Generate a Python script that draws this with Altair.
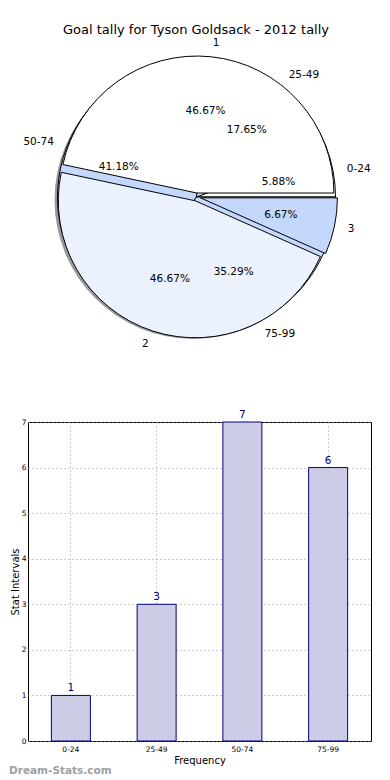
import altair as alt
import pandas as pd

chart_title = "Goal tally for Tyson Goldsack - 2012 tally"

goal_labels = ["1", "2", "3"]
goal_counts = [7, 7, 1]
goal_colors = ["#FFFFFF", "#EBF1FD", "#C4D8FB"]

interval_labels = ["0-24", "25-49", "50-74", "75-99"]
interval_counts = [1, 3, 7, 6]
interval_colors = ["#FFFFFF", "#EBF1FD", "#C4D8FB", "#C4D8FB"]

bar_values = [1, 3, 7, 6]
y_tick_values = [0, 1, 2, 3, 4, 5, 6, 7]
x_axis_title = "Frequency"
y_axis_title = "Stat Intervals"
watermark = "Dream-Stats.com"

FONT = "DejaVu Sans"
OX = 27          # page x of plot origin
PIE_W, PIE_H = 370 - OX, 401
CX = 195.5 - OX
CY = 197 - 8
RB = 139
RA = 137
EXPLODE = 4

goal_df = pd.DataFrame({"cat": goal_labels, "value": goal_counts, "order": list(range(len(goal_labels)))})
int_df = pd.DataFrame({"cat": interval_labels, "value": interval_counts, "order": list(range(len(interval_labels)))})


def pie_base(df, cx, cy, r, explode):
    return (
        alt.Chart(df)
        .transform_joinaggregate(total="sum(value)")
        .transform_window(cum="sum(value)", sort=[alt.SortField("order")])
        .transform_calculate(
            f0="(datum.cum - datum.value) / datum.total",
            f1="datum.cum / datum.total",
        )
        .transform_calculate(
            t0="PI / 2 - 2 * PI * datum.f1",
            t1="PI / 2 - 2 * PI * datum.f0",
            mid="PI * (datum.f0 + datum.f1)",
            pct="format(100 * datum.value / datum.total, '.2f') + '%'",
        )
        .transform_calculate(
            px=f"{cx} + {explode} * cos(datum.mid)",
            py=f"{cy} - {explode} * sin(datum.mid)",
        )
        .transform_calculate(
            lx=f"datum.px + {1.1 * r} * cos(datum.mid)",
            ly=f"datum.py - {1.1 * r} * sin(datum.mid)",
            qx=f"datum.px + {0.6 * r} * cos(datum.mid)",
            qy=f"datum.py - {0.6 * r} * sin(datum.mid)",
        )
    )


def pie_arcs(df, labels, colors, cx, cy, r, explode):
    return pie_base(df, cx, cy, r, explode).mark_arc(
        radius=r, stroke="black", strokeWidth=1
    ).encode(
        x=alt.X("px:Q", scale=None, axis=None),
        y=alt.Y("py:Q", scale=None, axis=None),
        theta=alt.Theta("t0:Q", scale=None, stack=None),
        theta2="t1:Q",
        color=alt.Color("cat:N", scale=alt.Scale(domain=labels, range=colors), legend=None),
    )


def pie_texts(df, cx, cy, r, explode):
    b = pie_base(df, cx, cy, r, explode)
    right = b.transform_filter("cos(datum.mid) >= 0").mark_text(
        align="left", baseline="middle", fontSize=10.5, font=FONT, color="black"
    ).encode(x=alt.X("lx:Q", scale=None), y=alt.Y("ly:Q", scale=None), text="cat:N")
    left = b.transform_filter("cos(datum.mid) < 0").mark_text(
        align="right", baseline="middle", fontSize=10.5, font=FONT, color="black"
    ).encode(x=alt.X("lx:Q", scale=None), y=alt.Y("ly:Q", scale=None), text="cat:N")
    pct = b.mark_text(
        align="center", baseline="middle", fontSize=10.5, font=FONT, color="black"
    ).encode(x=alt.X("qx:Q", scale=None), y=alt.Y("qy:Q", scale=None), text="pct:N")
    return [right, left, pct]


one = pd.DataFrame({"t": [chart_title]})
shadow = alt.Chart(one).mark_arc(
    radius=RB, theta=0, theta2=6.2832, fill="#555555", fillOpacity=0.6
).encode(x=alt.value(CX - 3), y=alt.value(CY + 3))

title = alt.Chart(one).mark_text(
    align="center", baseline="middle", fontSize=13, font=FONT, color="black"
).encode(x=alt.value(195 - OX), y=alt.value(30 - 8), text="t:N")

pie = alt.layer(
    shadow,
    pie_arcs(int_df, interval_labels, interval_colors, CX, CY, RB, 0),
    pie_arcs(goal_df, goal_labels, goal_colors, CX, CY, RA, EXPLODE),
    *pie_texts(int_df, CX, CY, RB, 0),
    *pie_texts(goal_df, CX, CY, RA, EXPLODE),
    title,
).resolve_scale(color="independent").properties(
    width=PIE_W, height=PIE_H, view=alt.ViewBackground(strokeOpacity=0)
)

bar_df = pd.DataFrame({"interval": interval_labels, "count": bar_values})
BAR_W = 370 - OX
BAR_H = 319

xenc = alt.X(
    "interval:N", sort=interval_labels,
    scale=alt.Scale(paddingInner=0, paddingOuter=0),
    axis=alt.Axis(
        title=x_axis_title, labelAngle=0, labelFontSize=7.5, titleFontSize=10,
        ticks=False, domain=False, grid=True, gridDash=[1, 3], gridColor="#9a9a9a",
        bandPosition=0.5, labelPadding=4, titlePadding=3, titleFontWeight="normal",
        labelFont=FONT, titleFont=FONT, labelColor="black", titleColor="black",
    ),
)
yenc = alt.Y(
    "count:Q", scale=alt.Scale(domain=[0, 7], nice=False, zero=True),
    axis=alt.Axis(
        title=y_axis_title, values=y_tick_values, labelFontSize=7.5, titleFontSize=10,
        ticks=False, domain=False, grid=True, gridDash=[1, 3], gridColor="#9a9a9a",
        labelPadding=2, titlePadding=1, titleFontWeight="normal",
        labelFont=FONT, titleFont=FONT, labelColor="black", titleColor="black",
    ),
)

bars = alt.Chart(bar_df).mark_bar(
    size=39, fill="#CCCCE6", stroke="#000080", strokeWidth=1
).encode(x=xenc, y=yenc)
vals = alt.Chart(bar_df).mark_text(
    baseline="bottom", dy=-2, color="#000080", fontSize=10.5, font=FONT
).encode(x=alt.X("interval:N", sort=interval_labels), y="count:Q", text="count:Q")
wm = alt.Chart(pd.DataFrame({"t": [watermark]})).mark_text(
    align="left", baseline="middle", fontSize=10.5, fontWeight="bold", font=FONT, color="#A0A0A0"
).encode(x=alt.value(8 - OX), y=alt.value(770 - 421), text="t:N")

bar_chart = alt.layer(bars, vals, wm).properties(
    width=BAR_W, height=BAR_H,
    view=alt.ViewBackground(stroke="black", strokeWidth=1),
)

chart = alt.vconcat(pie, bar_chart, spacing=0).properties(padding=0).configure(font=FONT)

chart.save("out.html", embed_options={"renderer": "svg", "actions": False})
